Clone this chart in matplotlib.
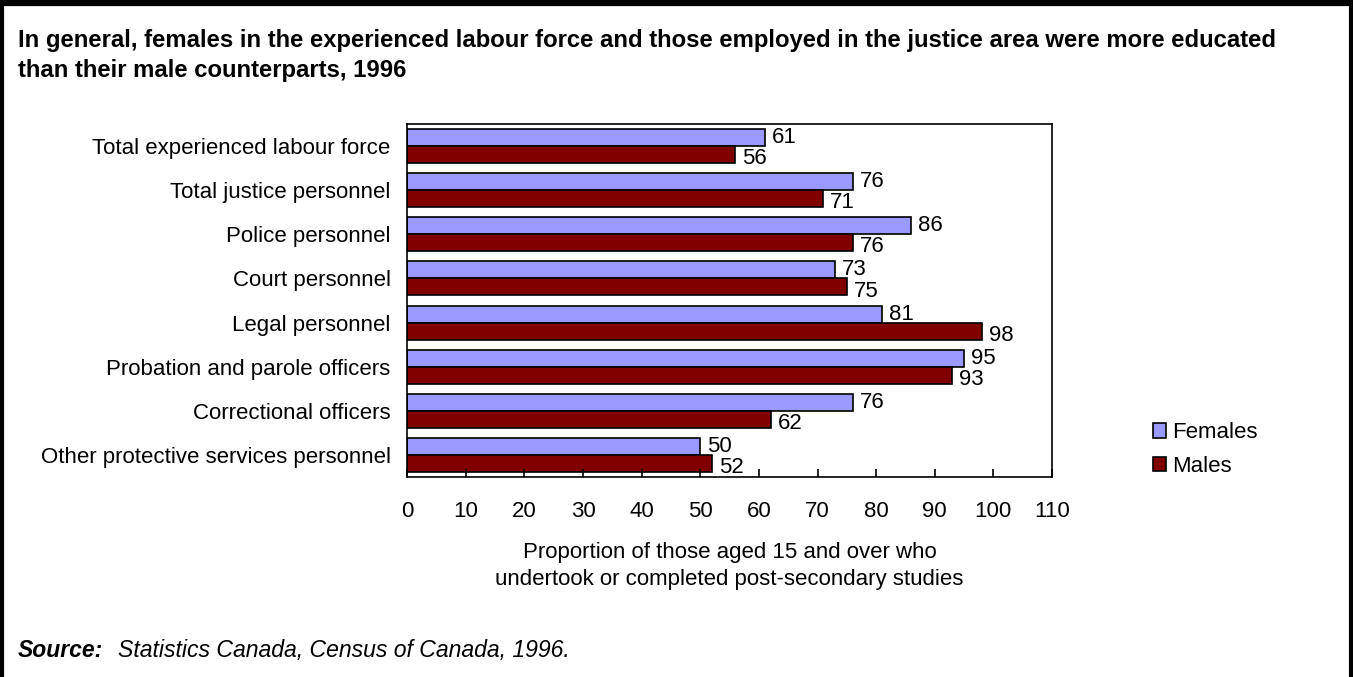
import matplotlib.pyplot as plt
import numpy as np
from matplotlib.lines import Line2D

categories = [
    'Total experienced labour force',
    'Total justice personnel',
    'Police personnel',
    'Court personnel',
    'Legal personnel',
    'Probation and parole officers',
    'Correctional officers',
    'Other protective services personnel',
]
females = [61, 76, 86, 73, 81, 95, 76, 50]
males = [56, 71, 76, 75, 98, 93, 62, 52]
x_ticks = list(range(0, 111, 10))

plt.rcParams['font.family'] = ['Liberation Sans', 'DejaVu Sans']

fig = plt.figure(figsize=(13.53, 6.77), dpi=100)
ax = fig.add_axes([0.301, 0.2954, 0.4765, 0.5214])

y = np.arange(len(categories))
h = 0.385
bf = ax.barh(y - h / 2, females, height=h, color='#9999FF', edgecolor='black',
             linewidth=1.2, label='Females')
bm = ax.barh(y + h / 2, males, height=h, color='#800000', edgecolor='black',
             linewidth=1.2, label='Males')

for yy, v in zip(y - h / 2, females):
    ax.annotate(str(v), (v, yy), xytext=(5, 0), textcoords='offset points',
                ha='left', va='center', fontsize=16)
for yy, v in zip(y + h / 2, males):
    ax.annotate(str(v), (v, yy), xytext=(5, -3), textcoords='offset points',
                ha='left', va='center', fontsize=16)

ax.set_xlim(0, 110)
ax.set_ylim(len(categories) - 0.5, -0.5)
ax.set_xticks(x_ticks)
ax.tick_params(axis='x', direction='in', length=6, width=1.2, labelsize=16, pad=17)
ax.set_yticks(y)
ax.set_yticklabels(categories, fontsize=16)
ax.tick_params(axis='y', length=0, pad=12)
for s in ax.spines.values():
    s.set_linewidth(1.2)
ax.set_xlabel('Proportion of those aged 15 and over who\nundertook or completed post-secondary studies',
              fontsize=16, labelpad=15, linespacing=1.35)

ax.legend(loc='center left', bbox_to_anchor=(1.125, 0.078), frameon=False, fontsize=16,
          handlelength=0.6, handleheight=0.6, handletextpad=0.3, labelspacing=0.55)

fig.text(0.013, 0.957, 'In general, females in the experienced labour force and those employed in the justice area were more educated\nthan their male counterparts, 1996',
         fontsize=17.2, fontweight='bold', va='top', ha='left', linespacing=1.4)
fig.text(0.013, 0.03, 'Source:', fontsize=16.5, fontweight='bold', style='italic', va='baseline')
fig.text(0.087, 0.03, 'Statistics Canada, Census of Canada, 1996.', fontsize=16.6, style='italic',
         va='baseline')

# frame round the figure, open at the bottom
fig.add_artist(Line2D([0, 1], [0.996, 0.996], color='black', lw=4.5, transform=fig.transFigure))
fig.add_artist(Line2D([0.0015, 0.0015], [0, 1], color='black', lw=3, transform=fig.transFigure))
fig.add_artist(Line2D([0.9985, 0.9985], [0, 1], color='black', lw=3, transform=fig.transFigure))

plt.savefig('out.png', dpi=100)
